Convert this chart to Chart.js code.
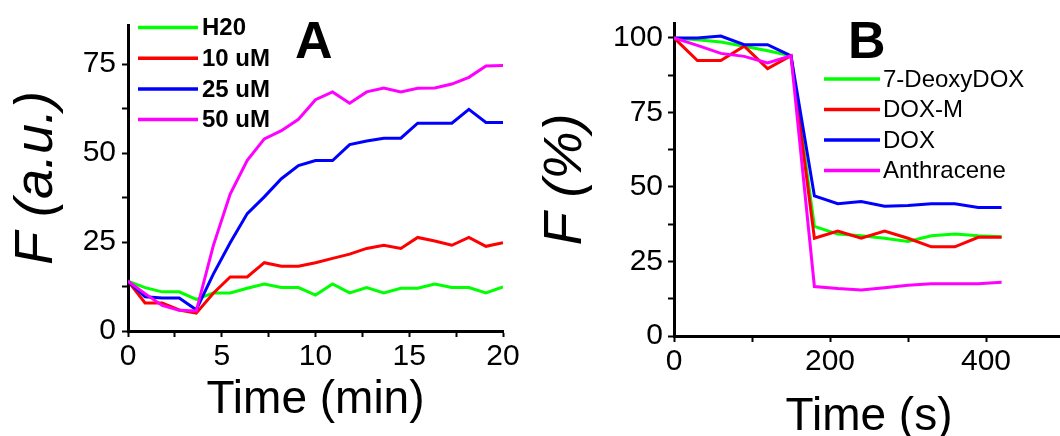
<!DOCTYPE html>
<html>
<head>
<meta charset="utf-8">
<script src="https://cdn.jsdelivr.net/npm/chart.js@4.4.1/dist/chart.umd.min.js"></script>
<style>
html, body { margin: 0; padding: 0; background: #fff; width: 1060px; height: 436px; overflow: hidden; }
#chartA { position: absolute; left: 0; top: 0; }
#chartB { position: absolute; left: 530px; top: 0; }
</style>
</head>
<body>
<canvas id="chartA" width="530" height="436"></canvas>
<canvas id="chartB" width="536" height="436"></canvas>
<script>
// ---- panel A data (time in min) ----
const timeMin = [0, 0.91, 1.82, 2.73, 3.64, 4.55, 5.45, 6.36, 7.27, 8.18, 9.09, 10, 10.91, 11.82, 12.73, 13.64, 14.55, 15.45, 16.36, 17.27, 18.18, 19.09, 20];
const h2o  = [14, 12.2, 11, 11, 8.9, 10.7, 10.7, 12, 13.2, 12.2, 12.2, 10.1, 13.2, 10.7, 12.2, 10.7, 12, 12, 13.2, 12.2, 12.2, 10.7, 12.4];
const um10 = [14, 7.9, 7.9, 5.9, 5.0, 10.6, 15.2, 15.2, 19.2, 18.2, 18.2, 19.2, 20.4, 21.6, 23.2, 24.1, 23.2, 26.3, 25.3, 24.1, 26.3, 23.8, 24.8];
const um25 = [14, 9.6, 9.3, 9.3, 6.0, 16, 24.8, 33, 37.7, 42.8, 46.5, 47.9, 47.9, 52.4, 53.4, 54.2, 54.2, 58.4, 58.4, 58.4, 62.3, 58.6, 58.6];
const um50 = [14, 10.5, 7.2, 5.8, 5.6, 24, 38.5, 48, 54, 56.3, 59.5, 65, 67.2, 64, 67.2, 68.3, 67.2, 68.2, 68.3, 69.4, 71.3, 74.5, 74.6];
const labelsA = ['H20', '10 uM', '25 uM', '50 uM'];

// ---- panel B data (time in s) ----
const timeSec = [0, 30, 60, 90, 120, 150, 180, 210, 240, 270, 300, 330, 360, 390, 420];
const deoxyDox   = [100, 99.4, 98.6, 97.2, 95.7, 94, 36.8, 34.2, 33.6, 32.8, 31.7, 33.6, 34.2, 33.6, 33.3];
const doxM       = [100, 92.4, 92.4, 97.2, 89.7, 94, 32.8, 35.2, 32.8, 35.2, 32.8, 29.9, 29.9, 33.1, 33.1];
const dox        = [100, 100, 100.6, 97.7, 97.7, 94, 47, 44.4, 45.1, 43.5, 43.8, 44.4, 44.4, 43.1, 43.1];
const anthracene = [100, 97.5, 94.8, 93.8, 91.6, 94, 16.6, 15.9, 15.4, 16.2, 17, 17.5, 17.5, 17.5, 18];
const labelsB = ['7-DeoxyDOX', 'DOX-M', 'DOX', 'Anthracene'];

const colors = ['#00ff00', '#ff0000', '#0000ff', '#ff00ff'];
const FAMILY = "'Liberation Sans', Arial, sans-serif";

function points(xs, ys) {
  return xs.map((x, i) => ({ x: x, y: ys[i] }));
}

function make_datasets(xs, series, names) {
  return series.map((ys, i) => ({
    label: names[i],
    data: points(xs, ys),
    borderColor: colors[i],
    backgroundColor: colors[i],
    borderWidth: 3,
    pointRadius: 0,
    tension: 0,
    order: series.length - 1 - i   // later series drawn on top
  }));
}

// legend lines + panel letter drawn inside the plot
const panelDecor = {
  id: 'panelDecor',
  afterDraw(chart, args, opts) {
    const ctx = chart.ctx;
    ctx.save();
    chart.data.datasets.forEach((ds, i) => {
      const y = opts.y + i * opts.rowH;
      ctx.strokeStyle = ds.borderColor;
      ctx.lineWidth = 3.5;
      ctx.beginPath();
      ctx.moveTo(opts.x, y);
      ctx.lineTo(opts.x + opts.lineLen, y);
      ctx.stroke();
      ctx.fillStyle = '#000';
      ctx.font = opts.font;
      ctx.textBaseline = 'middle';
      ctx.fillText(ds.label, opts.x + opts.lineLen + opts.gap, y + 1);
    });
    ctx.font = 'bold 52px ' + FAMILY;
    ctx.textBaseline = 'alphabetic';
    ctx.fillStyle = '#000';
    ctx.fillText(opts.letter, opts.letterX, opts.letterY);
    ctx.restore();
  }
};

function axis(opts) {
  return {
    type: 'linear',
    min: opts.min,
    max: opts.max,
    afterFit: opts.fit,
    border: { color: '#000', width: 3 },
    grid: { drawOnChartArea: false, color: '#000', tickLength: 6, tickWidth: 2 },
    ticks: {
      stepSize: opts.step,
      includeBounds: false,
      autoSkip: false,
      maxRotation: 0,
      padding: opts.pad,
      color: '#000',
      font: { family: FAMILY, size: 30 },
      callback: v => (v % opts.major === 0 ? v : '')
    },
    title: {
      display: true,
      text: opts.title,
      color: '#000',
      font: { family: FAMILY, size: opts.titleSize, style: opts.italic ? 'italic' : 'normal', lineHeight: 1 },
      padding: opts.titlePad
    }
  };
}

new Chart(document.getElementById('chartA').getContext('2d'), {
  type: 'line',
  data: { datasets: make_datasets(timeMin, [h2o, um10, um25, um50], labelsA) },
  plugins: [panelDecor],
  options: {
    responsive: false,
    animation: false,
    layout: { padding: { top: 25, right: 27, left: 0, bottom: 0 } },
    plugins: {
      legend: { display: false },
      tooltip: { enabled: false },
      panelDecor: { x: 138, y: 27.5, rowH: 30.7, lineLen: 60, gap: 4, font: 'bold 24px ' + FAMILY, letter: 'A', letterX: 295, letterY: 58 }
    },
    scales: {
      x: axis({ min: 0, max: 20, step: 2.5, major: 5, pad: 2, fit: s => { s.height = 105; },
                title: 'Time (min)', titleSize: 46, titlePad: { top: 0, bottom: 13 } }),
      y: axis({ min: 0, max: 86, step: 12.5, major: 25, pad: 6, fit: s => { s.width = 128; },
                title: 'F (a.u.)', titleSize: 54, italic: true, titlePad: { top: 10, bottom: 0 } })
    }
  }
});

new Chart(document.getElementById('chartB').getContext('2d'), {
  type: 'line',
  data: { datasets: make_datasets(timeSec, [deoxyDox, doxM, dox, anthracene], labelsB) },
  plugins: [panelDecor],
  options: {
    responsive: false,
    animation: false,
    layout: { padding: { top: 12, right: 1, left: 0, bottom: 0 } },
    plugins: {
      legend: { display: false },
      tooltip: { enabled: false },
      panelDecor: { x: 294, y: 79, rowH: 30.5, lineLen: 56, gap: 3, font: '24px ' + FAMILY, letter: 'B', letterX: 318, letterY: 58 }
    },
    scales: {
      x: axis({ min: 0, max: 500, step: 100, major: 200, pad: 2, fit: s => { s.height = 100; },
                title: 'Time (s)', titleSize: 46, titlePad: { top: 0, bottom: -4 } }),
      y: axis({ min: 0, max: 105, step: 12.5, major: 25, pad: 5, fit: s => { s.width = 144; },
                title: 'F (%)', titleSize: 54, italic: true, titlePad: { top: 9, bottom: 0 } })
    }
  }
});
</script>
</body>
</html>
